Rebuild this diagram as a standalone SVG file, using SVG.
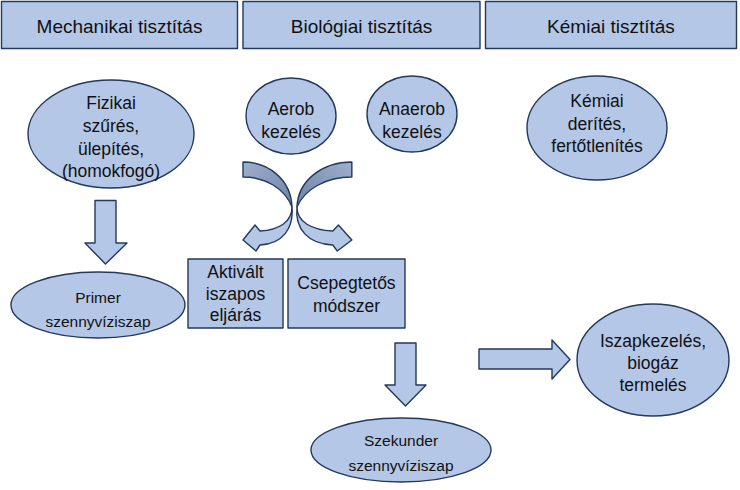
<svg xmlns="http://www.w3.org/2000/svg" width="740" height="490" viewBox="0 0 740 490">
<defs>
<linearGradient id="back" x1="0" y1="0" x2="1" y2="1">
<stop offset="0" stop-color="#9fb0cd"/>
<stop offset="1" stop-color="#6e82a6"/>
</linearGradient>
<style>
.shape{fill:#b4c7e7;stroke:#23395d;stroke-width:1.4;stroke-linejoin:round}
.backface{fill:url(#back);stroke:#23395d;stroke-width:1.4;stroke-linejoin:round}
.curve path{vector-effect:non-scaling-stroke}
text{font-family:"Liberation Sans",Arial,sans-serif;fill:#111;text-anchor:middle}
.h{font-size:19px}
.m{font-size:17.5px}
.s{font-size:15.5px}
</style>
</defs>
<rect width="740" height="490" fill="#fff"/>
<g id="header-mechanikai"><rect class="shape" x="1.5" y="1.5" width="236" height="47"/><text class="h" x="119.5" y="33">Mechanikai tisztítás</text></g>
<g id="header-biologiai"><rect class="shape" x="243" y="1.5" width="237" height="47"/><text class="h" x="361.5" y="33">Biológiai tisztítás</text></g>
<g id="header-kemiai"><rect class="shape" x="485.5" y="1.5" width="251" height="47"/><text class="h" x="611" y="33">Kémiai tisztítás</text></g>
<g id="fizikai"><ellipse class="shape" cx="111" cy="134" rx="83" ry="54"/><text class="m" x="111" y="109">Fizikai</text><text class="m" x="111" y="132">szűrés,</text><text class="m" x="111" y="155">ülepítés,</text><text class="m" x="111" y="177">(homokfogó)</text></g>
<g id="primer"><ellipse class="shape" cx="98" cy="305" rx="87" ry="33"/><text class="s" x="98" y="303">Primer</text><text class="s" x="98" y="327">szennyvíziszap</text></g>
<g id="aerob"><ellipse class="shape" cx="291" cy="116" rx="45" ry="38"/><text class="m" x="291" y="115">Aerob</text><text class="m" x="291" y="138">kezelés</text></g>
<g id="anaerob"><ellipse class="shape" cx="412" cy="114" rx="45" ry="38"/><text class="m" x="412" y="115">Anaerob</text><text class="m" x="412" y="138">kezelés</text></g>
<g id="kemiai"><ellipse class="shape" cx="597" cy="128" rx="70" ry="52"/><text class="m" x="597" y="107">Kémiai</text><text class="m" x="597" y="130">derítés,</text><text class="m" x="597" y="152">fertőtlenítés</text></g>
<g id="aktivalt"><rect class="shape" x="188" y="259" width="95" height="69"/><text class="m" x="235.5" y="278">Aktivált</text><text class="m" x="235.5" y="300">iszapos</text><text class="m" x="235.5" y="321">eljárás</text></g>
<g id="csepegteto"><rect class="shape" x="288" y="259" width="117" height="69"/><text class="m" x="346.5" y="289">Csepegtetős</text><text class="m" x="346.5" y="312">módszer</text></g>
<g id="iszapkezeles"><ellipse class="shape" cx="653" cy="360" rx="76" ry="56"/><text class="m" x="653" y="347">Iszapkezelés,</text><text class="m" x="653" y="369">biogáz</text><text class="m" x="653" y="391">termelés</text></g>
<g id="szekunder"><ellipse class="shape" cx="401" cy="450" rx="90" ry="32"/><text class="s" x="401" y="446">Szekunder</text><text class="s" x="401" y="471">szennyvíziszap</text></g>
<g id="connectors">
<path class="shape" d="M95,200.5 H116 V243 H127 L105.5,264 L85,243 H95 Z"/>
<path class="shape" d="M395,343 H416 V385 H426 L405.5,406 L385,385 H395 Z"/>
<path class="shape" d="M479,349 H552 V340 L570,359.5 L552,379 V369 H479 Z"/>
<g id="curved-left" class="curve">
<path class="backface" d="M243,162 C269,162 291,180 292,207 C285,189 266,177 243,177 Z"/>
<path class="shape" d="M292,207 C292,222 279,230 260,231 L255,225 L243,240 L256,251 L260,245 C282,244 294,229 292,207 Z"/>
</g>
<g id="curved-right" class="curve" transform="translate(624,0) scale(-1.12,1)">
<path class="backface" d="M243,162 C269,162 291,180 292,207 C285,189 266,177 243,177 Z"/>
<path class="shape" d="M292,207 C292,222 279,230 260,231 L255,225 L243,240 L256,251 L260,245 C282,244 294,229 292,207 Z"/>
</g>
</g>
</svg>
